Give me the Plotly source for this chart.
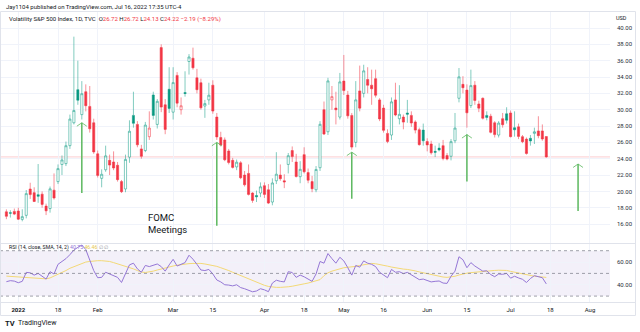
import pandas as pd
import plotly.graph_objects as go

W, H = 640, 332
FONT = "Roboto, 'Liberation Sans', sans-serif"
INK = "#131722"

# ---- trading calendar (bar index axis, weekends and market holidays skipped) ----
market_holidays = ["2022-01-17", "2022-02-21", "2022-04-15", "2022-05-30", "2022-06-20", "2022-07-04"]
sessions = [d.strftime("%Y-%m-%d") for d in pd.bdate_range("2021-12-29", "2022-08-05")
            if d.strftime("%Y-%m-%d") not in market_holidays]
slot = {d: i for i, d in enumerate(sessions)}

# ---- VIX daily bars, 2021-12-29 .. 2022-07-15 ----
opens = [17.50, 17.40, 17.55, 17.60, 16.57, 17.07, 20.29, 19.85, 19.60, 19.66, 18.20, 17.90, 20.15,
         21.20, 23.30, 23.40, 25.60, 28.40, 32.45, 29.40, 32.20, 30.40, 28.40,
         24.60, 21.60, 22.65, 23.80, 23.60, 23.20, 21.20, 20.30, 24.20, 29.30, 28.20, 25.20, 25.00,
         26.70, 31.80, 28.20, 37.60, 30.60, 32.50,
         29.70, 34.20, 30.00, 32.10, 35.90, 36.30, 33.90, 33.30, 30.45, 31.20, 33.00, 29.10, 26.60,
         26.30, 24.95, 23.80, 23.00, 23.50, 22.00, 22.20, 19.80, 19.50, 19.80,
         20.70, 20.20, 18.70, 21.30, 22.00, 21.30, 23.30, 25.00, 23.60, 21.80, 24.50, 22.30, 21.20,
         20.20, 22.90, 30.00, 27.30, 31.20, 30.20, 29.10,
         33.50, 31.80, 29.30, 26.00, 32.30, 32.00, 33.70, 33.00, 33.80, 31.20, 30.20, 27.10, 26.90,
         31.20, 28.90, 29.10, 29.60, 29.30, 28.50, 27.55, 27.50,
         26.10, 25.80, 24.90, 25.30, 25.60, 24.40, 24.30, 26.20, 31.40, 33.10, 32.40, 30.50, 33.00,
         30.70, 31.40, 29.30, 29.20, 28.40, 26.90, 28.90, 29.50,
         29.60, 27.80, 27.90, 26.70, 26.40, 26.50, 27.10, 27.40, 27.40, 26.72]
highs = [17.80, 17.70, 17.90, 18.00, 17.81, 20.17, 21.06, 20.50, 23.35, 20.00, 18.50, 20.60, 22.20,
         23.30, 24.40, 26.10, 29.40, 38.94, 36.00, 33.50, 33.10, 32.90, 28.90,
         25.00, 22.70, 25.60, 24.50, 24.90, 23.60, 21.40, 24.50, 28.70, 32.20, 28.60, 25.70, 28.50,
         29.80, 32.20, 31.30, 38.00, 31.30, 35.20,
         35.20, 34.60, 31.50, 34.70, 36.80, 37.60, 35.00, 33.80, 31.20, 33.30, 33.60, 29.60, 27.30,
         26.60, 25.20, 24.10, 23.90, 23.70, 22.50, 23.30, 19.90, 20.10, 21.10,
         21.10, 20.90, 21.60, 24.80, 23.30, 22.10, 24.70, 25.50, 24.60, 23.70, 25.40, 22.80, 21.90,
         23.10, 28.60, 31.00, 33.90, 32.90, 32.20, 34.50,
         36.70, 32.30, 29.60, 33.50, 35.40, 35.50, 35.20, 34.90, 34.90, 31.40, 30.60, 27.60, 31.50,
         33.30, 33.00, 29.40, 31.20, 29.80, 28.70, 27.80, 28.30,
         26.50, 26.20, 25.60, 25.90, 26.30, 24.70, 26.40, 29.60, 35.10, 34.10, 33.10, 34.90, 33.50,
         31.10, 31.50, 29.80, 29.50, 28.60, 28.60, 29.60, 30.30,
         29.90, 29.80, 28.30, 26.90, 26.60, 26.90, 27.80, 29.20, 28.20, 26.72]
lows = [16.60, 16.80, 17.10, 16.50, 16.34, 16.70, 19.08, 18.70, 18.60, 18.00, 17.10, 17.40, 19.00,
        20.90, 22.00, 23.10, 25.20, 28.20, 30.60, 28.80, 29.80, 27.20, 24.60,
        21.70, 20.50, 22.40, 22.00, 22.60, 21.20, 19.80, 19.90, 23.50, 27.80, 25.40, 24.00, 24.80,
        26.30, 28.80, 27.70, 29.70, 27.00, 29.60,
        28.80, 30.30, 29.40, 31.60, 34.30, 34.90, 32.00, 30.00, 29.00, 30.60, 29.50, 26.30, 25.50,
        23.70, 23.30, 22.80, 22.60, 21.50, 20.60, 19.50, 18.60, 18.70, 19.30,
        19.20, 18.45, 18.30, 20.90, 21.30, 20.40, 22.20, 23.60, 21.70, 21.00, 22.20, 21.00, 19.90,
        19.90, 22.50, 26.90, 26.90, 30.00, 28.20, 28.80,
        31.80, 28.90, 25.10, 25.40, 29.80, 31.50, 32.00, 30.60, 31.50, 28.60, 27.20, 25.90, 26.30,
        29.20, 28.20, 27.60, 28.40, 27.90, 27.10, 25.60, 25.60,
        24.90, 24.50, 24.20, 24.90, 23.80, 23.80, 23.80, 25.90, 30.90, 32.00, 27.80, 30.20, 30.60,
        29.70, 28.80, 28.70, 27.10, 26.60, 26.60, 27.80, 28.30,
        26.60, 26.70, 26.40, 25.90, 24.50, 25.60, 25.80, 26.50, 26.20, 24.13]
closes = [16.95, 17.33, 17.22, 16.60, 16.91, 19.73, 19.61, 18.76, 19.40, 18.41, 17.62, 20.31, 19.19,
          22.79, 23.85, 25.59, 28.85, 29.90, 31.16, 31.96, 30.49, 27.66, 24.83,
          21.96, 22.09, 24.35, 23.22, 22.86, 21.44, 19.96, 23.91, 27.36, 28.33, 25.70, 24.29, 28.11,
          27.75, 29.30, 31.02, 30.32, 27.59, 30.15,
          33.32, 30.80, 30.48, 31.98, 36.45, 35.13, 32.45, 30.23, 30.75, 31.77, 29.83, 26.67, 25.67,
          23.87, 23.53, 22.94, 23.57, 21.67, 20.81, 19.63, 18.90, 19.33, 20.56,
          19.63, 18.57, 21.03, 22.10, 21.55, 21.16, 24.37, 24.26, 21.82, 22.70, 22.40, 21.37, 20.32,
          22.68, 28.21, 27.02, 33.52, 31.60, 29.99, 33.40,
          32.34, 29.25, 25.42, 31.20, 30.19, 34.75, 32.99, 32.56, 31.77, 28.87, 27.47, 26.10, 30.96,
          29.35, 29.43, 28.48, 29.45, 28.37, 27.50, 25.72, 26.19,
          25.69, 24.72, 24.79, 25.07, 24.02, 23.96, 26.09, 27.75, 34.02, 32.69, 29.62, 32.95, 31.13,
          30.19, 28.95, 29.05, 27.23, 26.95, 28.36, 28.16, 28.71,
          26.70, 27.54, 26.73, 26.08, 24.64, 26.17, 27.29, 26.82, 26.41, 24.22]
prior_close = 17.54  # close of 2021-12-28, colours the first bar

# ---- RSI(14) and its 14-bar SMA ----
rsi = [42.7, 43.6, 43.2, 41.8, 43.0, 50.9, 50.5, 48.5, 50.0, 47.5, 45.0, 51.5, 49.5,
       58.0, 60.3, 63.0, 66.5, 70.5, 73.0, 75.0, 71.0, 61.0, 52.5,
       46.2, 46.5, 51.0, 49.5, 48.5, 46.5, 42.0, 50.5, 57.5, 59.0, 54.0, 51.0, 57.0,
       56.0, 57.0, 58.3, 56.0, 52.0, 57.5,
       62.4, 56.5, 58.0, 59.5, 66.0, 62.5, 58.0, 53.0, 52.5, 53.5, 49.5, 44.2, 42.5,
       40.0, 39.7, 39.0, 40.0, 37.5, 36.5, 35.0, 33.8, 34.5, 36.5,
       35.5, 33.9, 41.5, 44.0, 43.0, 42.5, 51.5, 50.8, 46.5, 48.5, 47.0, 45.2, 43.0,
       49.5, 60.5, 59.0, 67.5, 63.0, 59.0, 64.2,
       61.0, 55.0, 48.5, 57.0, 55.5, 61.0, 59.0, 58.0, 56.0, 51.0, 48.5, 46.2, 53.5,
       51.0, 51.5, 49.8, 50.9, 49.0, 47.0, 44.5, 45.0,
       43.5, 42.5, 43.0, 43.3, 41.5, 41.2, 47.5, 52.0, 64.7, 62.0, 55.0, 59.5, 56.5,
       54.5, 52.0, 52.3, 49.0, 47.1, 49.5, 49.2, 50.0,
       45.8, 47.5, 46.0, 44.8, 42.0, 45.5, 48.0, 47.0, 46.2, 40.75]
rsi_ma = [47.6, 47.3, 47.0, 46.7, 46.5, 46.3, 46.0, 45.8, 45.5, 45.2, 45.2, 46.0, 47.5,
          49.0, 50.5, 52.5, 54.5, 56.0, 57.5, 59.0, 60.0, 60.5, 61.0,
          61.2, 61.2, 61.0, 60.5, 59.5, 58.5, 57.5, 56.2, 55.0, 54.0, 52.5, 51.2, 50.8,
          51.2, 52.0, 53.0, 54.0, 55.0, 55.8,
          56.5, 57.2, 57.8, 58.3, 58.6, 58.8, 58.9, 58.8, 58.3, 57.8, 57.2, 56.2, 55.0,
          54.0, 52.5, 51.0, 49.5, 48.0, 46.5, 45.0, 43.5, 42.0, 40.8,
          39.5, 38.5, 38.0, 37.7, 37.7, 37.8, 38.2, 38.7, 39.2, 40.0, 40.8, 41.5, 42.3,
          43.2, 44.5, 48.0, 50.5, 52.0, 53.2, 54.4,
          55.0, 55.4, 55.7, 56.2, 57.0, 57.8, 58.5, 58.8, 58.5, 58.0, 57.3, 56.4, 55.6,
          54.9, 54.3, 53.8, 53.5, 53.0, 52.2, 51.3, 50.5,
          49.8, 49.0, 48.0, 47.3, 46.8, 46.5, 46.8, 47.5, 48.6, 49.6, 50.2, 50.7, 51.1,
          51.4, 51.7, 52.0, 52.3, 52.6, 52.8, 53.0, 52.6,
          51.8, 51.0, 50.2, 49.4, 48.7, 48.0, 47.5, 47.2, 46.8, 46.46]

# ---- FOMC decision days, arrow tip/tail levels ----
fomc_dates = ["2022-01-26", "2022-03-16", "2022-05-04", "2022-06-15", "2022-07-27"]
arrow_tip = [28.4, 26.0, 24.8, 26.95, 23.35]
arrow_tail = [19.8, 15.8, 19.1, 21.2, 17.6]

# ---- time axis labels ----
tick_dates = ["2022-01-03", "2022-01-18", "2022-02-01", "2022-03-01", "2022-03-15", "2022-04-01",
              "2022-04-18", "2022-05-02", "2022-05-16", "2022-06-01", "2022-06-15", "2022-07-01",
              "2022-07-18", "2022-08-01"]
tick_text = ["<b>2022</b>", "18", "Feb", "Mar", "15", "Apr", "18", "May", "16", "Jun", "15", "Jul", "18", "Aug"]
price_ticks = list(range(16, 41, 2))

dates = sessions[:len(closes)]
xs = [slot[d] for d in dates]
prev = [prior_close] + closes[:-1]

TEAL_FILL = "#089981"
TEAL_LINE = "rgba(8,153,129,0.5)"
RED_FILL = "#f23645"
RED_LINE = "rgba(242,54,69,0.55)"

fig = go.Figure()


def candle_group(keep, line_col, fill_col):
    idx = [i for i in range(len(closes)) if keep(i)]
    return go.Candlestick(
        x=[xs[i] for i in idx], open=[opens[i] for i in idx], high=[highs[i] for i in idx],
        low=[lows[i] for i in idx], close=[closes[i] for i in idx],
        increasing=dict(line=dict(color=line_col, width=1), fillcolor="#ffffff"),
        decreasing=dict(line=dict(color=line_col, width=1), fillcolor=fill_col),
        whiskerwidth=0, showlegend=False, hoverinfo="skip", xaxis="x", yaxis="y")


fig.add_trace(candle_group(lambda i: closes[i] >= prev[i], TEAL_LINE, TEAL_FILL))
fig.add_trace(candle_group(lambda i: closes[i] < prev[i], RED_LINE, RED_FILL))

fig.add_trace(go.Scatter(x=xs, y=rsi_ma, mode="lines", line=dict(color="#f3d976", width=1),
                         showlegend=False, hoverinfo="skip", xaxis="x2", yaxis="y2"))
fig.add_trace(go.Scatter(x=xs, y=rsi, mode="lines", line=dict(color="#9577d6", width=1),
                         showlegend=False, hoverinfo="skip", xaxis="x2", yaxis="y2"))

# pixel layout helpers
PLOT_RIGHT = 610
MAIN_TOP, MAIN_BOT = 12, 243
RSI_BOT = 302
px_per_bar, x0_px = 3.97, 6.39
x_range = [(0 - x0_px) / px_per_bar, (PLOT_RIGHT - x0_px) / px_per_bar]
py = 8.17  # px per price unit, 40.00 sits at y=28
main_range = [40 - (MAIN_BOT - 28) / py, 40 + (28 - MAIN_TOP) / py]
ry = 1.135  # px per RSI unit, 50 sits at y=273.4
rsi_range = [50 - (RSI_BOT - 273.4) / ry, 50 + (273.4 - MAIN_BOT) / ry]


def fy(y):
    return 1 - y / H


tickvals = [slot[d] for d in tick_dates]
grid = "#f0f3fa"
axis_font = dict(family=FONT, size=6, color=INK)

fig.update_layout(
    width=W, height=H, margin=dict(l=0, r=0, t=0, b=0),
    paper_bgcolor="#ffffff", plot_bgcolor="#ffffff",
    boxgap=0.22,
    xaxis=dict(domain=[0, PLOT_RIGHT / W], range=x_range, rangeslider=dict(visible=False),
               tickvals=tickvals, showticklabels=False, showgrid=True, gridcolor=grid,
               zeroline=False, anchor="y", fixedrange=True),
    xaxis2=dict(domain=[0, PLOT_RIGHT / W], range=x_range, matches="x", tickvals=tickvals,
                ticktext=tick_text, showgrid=True, gridcolor=grid, zeroline=False, anchor="y2",
                tickfont=axis_font, ticks="", ticklabelstandoff=3),
    yaxis=dict(domain=[fy(MAIN_BOT), fy(MAIN_TOP)], range=main_range, side="right",
               tickvals=price_ticks, ticktext=[f"{v:.2f}" for v in price_ticks],
               showgrid=True, gridcolor=grid, zeroline=False, anchor="x",
               tickfont=dict(family=FONT, size=6, color="#2a2e39"), ticks="", ticklabelstandoff=6),
    yaxis2=dict(domain=[fy(RSI_BOT), fy(MAIN_BOT)], range=rsi_range, side="right",
                tickvals=[40, 60], ticktext=["40.00", "60.00"], showgrid=True, gridcolor=grid,
                zeroline=False, anchor="x2",
                tickfont=dict(family=FONT, size=6, color="#2a2e39"), ticks="", ticklabelstandoff=6),
)

shapes = []
# RSI band and reference levels
shapes.append(dict(type="rect", xref="x2 domain", yref="y2", x0=0, x1=1, y0=30, y1=70,
                   fillcolor="rgba(126,87,194,0.09)", line=dict(width=0), layer="below"))
for lvl in (70, 50, 30):
    shapes.append(dict(type="line", xref="x2 domain", yref="y2", x0=0, x1=1, y0=lvl, y1=lvl,
                       line=dict(color="rgba(120,123,134,0.7)", width=1, dash="3px,3px")))
# last close price line
shapes.append(dict(type="line", xref="x domain", yref="y", x0=0, x1=1, y0=closes[-1], y1=closes[-1],
                   line=dict(color="rgba(242,54,69,0.25)", width=1), layer="below"))
# FOMC arrows
GREEN = "#5cb85f"
for d, tip, tail in zip(fomc_dates, arrow_tip, arrow_tail):
    s = slot[d]
    shapes.append(dict(type="line", xref="x", yref="y", x0=s, x1=s, y0=tail, y1=tip,
                       line=dict(color=GREEN, width=1.5)))
    shapes.append(dict(type="path", xref="x", yref="y",
                       path=f"M {s - 1.25},{tip - 0.42} L {s},{tip} L {s + 1.25},{tip - 0.42}",
                       line=dict(color="rgba(92,184,95,0.8)", width=1)))
# frame and pane separators
border = "#e0e3eb"
shapes.append(dict(type="rect", xref="paper", yref="paper", x0=0.5 / W, x1=635.5 / W,
                   y0=fy(315.5), y1=fy(11.5), line=dict(color=border, width=1)))
for yy in (MAIN_BOT, RSI_BOT):
    shapes.append(dict(type="line", xref="paper", yref="paper", x0=0, x1=635.5 / W,
                       y0=fy(yy + 0.5), y1=fy(yy + 0.5), line=dict(color=border, width=1)))
fig.update_layout(shapes=shapes)

RED_TXT = "#f23645"


def note(x, y, text, size=6.0, color=INK, anchor="left"):
    fig.add_annotation(xref="paper", yref="paper", x=x / W, y=fy(y), text=text, showarrow=False,
                       xanchor=anchor, yanchor="middle", align="left",
                       font=dict(family=FONT, size=size, color=color))


note(4, 6, "Jay1104 published on TradingView.com, Jul 16, 2022 17:35 UTC-4")
ohlc = (f"O<span style='color:{RED_TXT}'>{opens[-1]:.2f}</span> "
        f"H<span style='color:{RED_TXT}'>{highs[-1]:.2f}</span> "
        f"L<span style='color:{RED_TXT}'>{lows[-1]:.2f}</span> "
        f"C<span style='color:{RED_TXT}'>{closes[-1]:.2f}</span> "
        f"<span style='color:{RED_TXT}'>−2.19 (−8.29%)</span>")
note(7, 19, "Volatility S&P 500 Index, 1D, TVC  " + ohlc)
note(614, 18, "USD", size=5.5)
note(7, 247, "RSI (14, close, SMA, 14, 2) "
     f"<span style='color:#9577d6'>{rsi[-1]:.2f}</span> "
     f"<span style='color:#e8c84a'>{rsi_ma[-1]:.2f}</span> "
     "<span style='color:#9598a1'>∅ ∅</span>", size=5.2)
note(146, 224, "FOMC<br>Meetings", size=9.5)
note(3, 323, "<b>TV</b>", size=7.5)
note(16, 323, "TradingView", size=7)

fig.write_html("out.html")
